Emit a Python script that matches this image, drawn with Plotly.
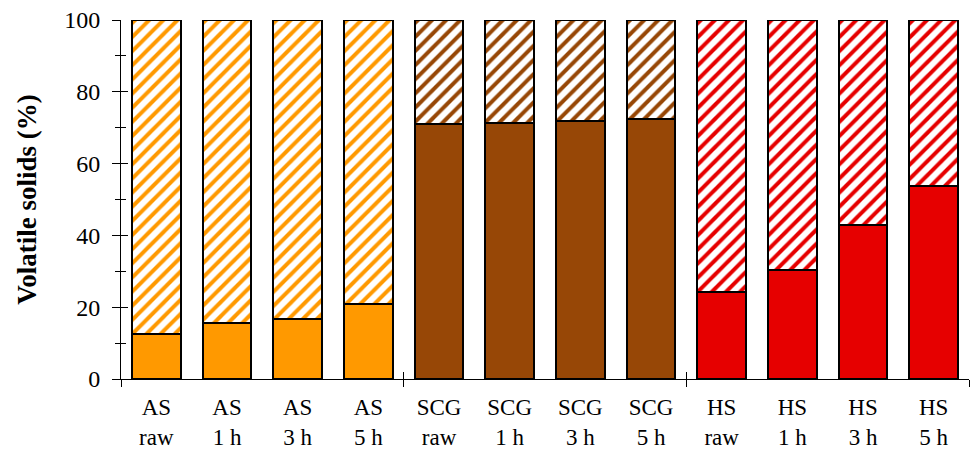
import plotly.graph_objects as go

categories = ["AS<br>raw", "AS<br>1 h", "AS<br>3 h", "AS<br>5 h",
              "SCG<br>raw", "SCG<br>1 h", "SCG<br>3 h", "SCG<br>5 h",
              "HS<br>raw", "HS<br>1 h", "HS<br>3 h", "HS<br>5 h"]
solid_values = [12.5, 15.6, 16.6, 20.8, 70.9, 71.3, 71.8, 72.5, 24.1, 30.5, 42.8, 53.9]
total_values = [100] * 12
group_colors = ["#FF9900"] * 4 + ["#974706"] * 4 + ["#E60000"] * 4
group_bounds = [-0.5, 3.5, 7.5, 11.5]
y_ticks = [0, 20, 40, 60, 80, 100]

x = list(range(len(categories)))
hatched_values = [t - s for t, s in zip(total_values, solid_values)]

font_family = "Liberation Serif, Times New Roman, serif"

fig = go.Figure()
fig.add_trace(go.Bar(
    x=x, y=solid_values, width=0.69,
    marker=dict(color=group_colors, line=dict(color="black", width=2)),
    showlegend=False, hoverinfo="skip",
))
fig.add_trace(go.Bar(
    x=x, y=hatched_values, width=0.69,
    marker=dict(color="white", line=dict(color="black", width=2),
                pattern=dict(shape="/", fgcolor=group_colors, bgcolor="white",
                             size=10, solidity=0.4, fillmode="replace", fgopacity=1)),
    showlegend=False, hoverinfo="skip",
))
# empty helper traces so the overlay axes (crossing tick marks) get drawn
for ax in ("2", "3"):
    fig.add_trace(go.Scatter(x=[None], y=[None], xaxis="x" + ax, yaxis="y" + ax,
                             showlegend=False, hoverinfo="skip", mode="markers"))

axis_common = dict(showgrid=False, zeroline=False, automargin=False)
clear = "rgba(0,0,0,0)"

fig.update_layout(
    width=973, height=452,
    margin=dict(l=121, r=4, t=20, b=73),
    barmode="stack",
    plot_bgcolor="white", paper_bgcolor="white",
    font=dict(family=font_family, size=24, color="black"),
    xaxis=dict(range=[-0.5, 11.5], tickmode="array", tickvals=x, ticktext=categories,
               ticks="outside", ticklen=7, tickcolor=clear,
               showline=True, linecolor="black", linewidth=1,
               tickfont=dict(size=23), ticklabeloverflow="allow", **axis_common),
    xaxis2=dict(range=[-0.5, 11.5], overlaying="x", anchor="y", side="bottom",
                tickmode="array", tickvals=group_bounds, showticklabels=False,
                ticks="outside", ticklen=7, tickwidth=1, tickcolor="black",
                showline=False, **axis_common),
    xaxis3=dict(range=[-0.5, 11.5], overlaying="x", anchor="y", side="bottom",
                tickmode="array", tickvals=group_bounds, showticklabels=False,
                ticks="inside", ticklen=7, tickwidth=1, tickcolor="black",
                showline=False, **axis_common),
    yaxis=dict(range=[0, 100], tickmode="array", tickvals=y_ticks,
               ticks="outside", ticklen=15, tickcolor=clear,
               showline=True, linecolor="black", linewidth=1,
               tickfont=dict(size=24), ticklabeloverflow="allow",
               title=dict(text="<b>Volatile solids (%)</b>", font=dict(size=27), standoff=19),
               **axis_common),
    yaxis2=dict(range=[0, 100], overlaying="y", anchor="x", side="left",
                tickmode="array", tickvals=y_ticks, showticklabels=False,
                ticks="outside", ticklen=8, tickwidth=1, tickcolor="black",
                minor=dict(dtick=10, ticks="outside", ticklen=5, tickcolor="black", tickwidth=1),
                showline=False, **axis_common),
    yaxis3=dict(range=[0, 100], overlaying="y", anchor="x", side="left",
                tickmode="array", tickvals=y_ticks, showticklabels=False,
                ticks="inside", ticklen=7, tickwidth=1, tickcolor="black",
                minor=dict(dtick=10, ticks="inside", ticklen=5, tickcolor="black", tickwidth=1),
                showline=False, **axis_common),
)

fig.write_html("out.html", config={"displayModeBar": False},
               post_script="document.body.style.margin='0px';")
